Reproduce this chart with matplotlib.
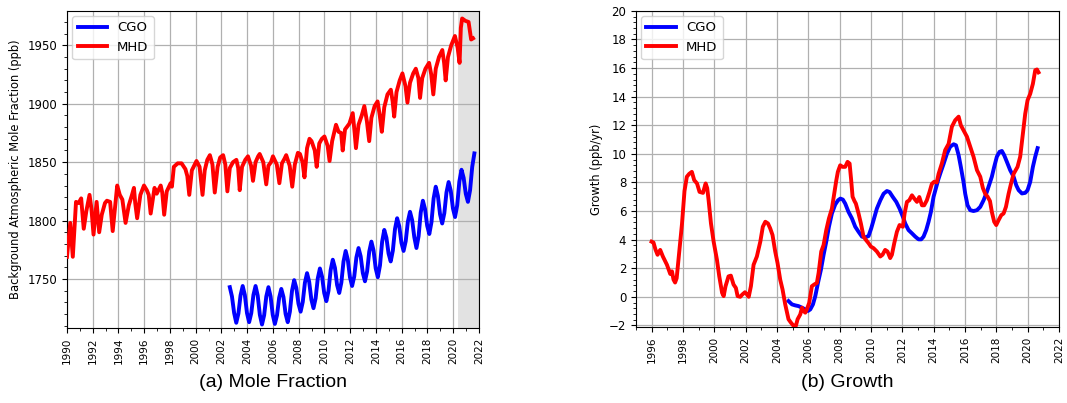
import numpy as np
import matplotlib
matplotlib.use("Agg")
import matplotlib.pyplot as plt
from matplotlib.ticker import MultipleLocator, AutoMinorLocator

# ---------------- data: (a) mole fraction ----------------
mhd_t = [1990.0, 1990.25, 1990.45, 1990.7, 1990.9,
         1991.1, 1991.3, 1991.5, 1991.75, 1991.9,
         1992.06, 1992.3, 1992.5, 1992.7, 1992.95,
         1993.1, 1993.35, 1993.55, 1993.9,
         1994.1, 1994.3, 1994.55, 1994.8,
         1995.05, 1995.2, 1995.3, 1995.45, 1995.7,
         1995.98, 1996.2, 1996.35, 1996.5, 1996.8,
         1996.97, 1997.28, 1997.4, 1997.55, 1997.75,
         1998.05, 1998.15, 1998.3, 1998.6, 1998.9, 1999.2, 1999.35, 1999.5, 1999.7,
         2000.06, 2000.3, 2000.53, 2000.7, 2000.9,
         2001.1, 2001.3, 2001.48, 2001.7, 2001.9,
         2002.13, 2002.3, 2002.46, 2002.65, 2002.9,
         2003.16, 2003.3, 2003.42, 2003.6, 2003.85,
         2004.06, 2004.3, 2004.45, 2004.65, 2004.85,
         2004.97, 2005.25, 2005.48, 2005.65, 2005.85,
         2006.0, 2006.3, 2006.5, 2006.7, 2006.9,
         2007.03, 2007.3, 2007.5, 2007.7, 2007.94,
         2008.1, 2008.3, 2008.45, 2008.65, 2008.84,
         2009.0, 2009.25, 2009.4, 2009.6, 2009.8,
         2010.0, 2010.25, 2010.4, 2010.6, 2010.9,
         2011.1, 2011.3, 2011.42, 2011.6, 2011.94,
         2012.2, 2012.35, 2012.45, 2012.65, 2012.9,
         2013.1, 2013.3, 2013.48, 2013.65, 2013.9,
         2014.13, 2014.3, 2014.46, 2014.65, 2014.9,
         2015.16, 2015.3, 2015.42, 2015.6, 2015.85,
         2016.06, 2016.3, 2016.45, 2016.65, 2016.9,
         2017.1, 2017.3, 2017.43, 2017.6, 2017.85,
         2018.13, 2018.3, 2018.46, 2018.65, 2018.9,
         2019.16, 2019.3, 2019.42, 2019.6, 2019.85,
         2020.14, 2020.35, 2020.5, 2020.6, 2020.7, 2020.95, 2021.2, 2021.4, 2021.55]
mhd_v = [1769, 1798, 1769, 1816, 1815,
         1819, 1793, 1808, 1822, 1810,
         1788, 1816, 1790, 1805, 1815,
         1817, 1816, 1791, 1830,
         1822, 1818, 1798, 1813,
         1822, 1828, 1815, 1802, 1822,
         1830, 1826, 1822, 1806, 1828,
         1823, 1830, 1824, 1805, 1825,
         1832, 1829, 1846, 1849, 1849, 1844, 1838, 1822, 1843,
         1851, 1846, 1822, 1843, 1852,
         1856, 1848, 1824, 1846, 1854,
         1856, 1848, 1825, 1845, 1850,
         1852, 1845, 1826, 1846, 1852,
         1855, 1847, 1834, 1850, 1855,
         1857, 1850, 1831, 1847, 1850,
         1855, 1848, 1832, 1849, 1853,
         1856, 1847, 1829, 1848, 1858,
         1857, 1850, 1837, 1862, 1870,
         1868, 1860, 1846, 1866, 1870,
         1872, 1864, 1851, 1868, 1882,
         1876, 1875, 1860, 1878, 1883,
         1892, 1875, 1862, 1882, 1890,
         1898, 1885, 1868, 1888, 1898,
         1902, 1890, 1876, 1897, 1908,
         1912, 1902, 1889, 1910, 1920,
         1926, 1915, 1901, 1918, 1926,
         1930, 1922, 1905, 1922, 1930,
         1935, 1925, 1908, 1930, 1940,
         1946, 1935, 1920, 1940, 1950,
         1958, 1948, 1935, 1965, 1973, 1971, 1970, 1955, 1956]

# CGO sampled every two months from 2002.65
cgo_t = 2002.65 + np.arange(115) / 6.0
cgo_v = [1743, 1735, 1721,
         1712.5, 1720.4, 1736, 1744, 1736.3, 1720.8,
         1713, 1720.8, 1736.3, 1744, 1735.8, 1719.3,
         1711, 1719, 1735, 1743, 1735.1, 1719.4,
         1711.5, 1719, 1734, 1741.5, 1734.6, 1720.1,
         1713, 1722, 1740, 1749, 1742.3, 1728.8,
         1722, 1730.3, 1746.8, 1755, 1747.5, 1732.5,
         1725, 1733.5, 1750.5, 1759, 1752, 1738,
         1731, 1739.9, 1757.6, 1766.5, 1759.6, 1744.9,
         1738, 1747, 1765, 1774, 1766.5, 1751.5,
         1744, 1752.1, 1768.4, 1776.5, 1769.4, 1755.1,
         1748, 1756.5, 1773.5, 1782, 1774.4, 1759.1,
         1751.5, 1761.6, 1781.9, 1792, 1785.3, 1771.8,
         1765, 1774.3, 1792.8, 1802, 1795, 1781,
         1774, 1782.4, 1799.1, 1807.5, 1800.3, 1785.8,
         1776.5, 1786.6, 1806.9, 1817, 1809.9, 1795.6,
         1788.5, 1798.6, 1818.9, 1829, 1821.1, 1805.4,
         1797.5, 1806.4, 1824.1, 1833, 1825.5, 1810.5,
         1803, 1813.1, 1833.4, 1843.5, 1836.6, 1822.9,
         1816, 1826, 1846, 1857.5]

# ---------------- data: (b) growth ----------------
mhd_g_t = [1996.0, 1996.12, 1996.25, 1996.38, 1996.55, 1996.72, 1996.98, 1997.19, 1997.3,
           1997.4, 1997.5, 1997.6, 1997.8, 1997.94, 1998.1, 1998.25, 1998.4, 1998.57,
           1998.72, 1998.9, 1999.06, 1999.28, 1999.45, 1999.55, 1999.64, 1999.79, 1999.96,
           2000.17, 2000.32, 2000.5, 2000.6, 2000.72, 2000.91, 2001.06, 2001.23, 2001.38,
           2001.49, 2001.66, 2001.79, 2001.96, 2002.09, 2002.2, 2002.34, 2002.51, 2002.72,
           2002.94, 2003.1, 2003.26, 2003.43, 2003.57, 2003.72, 2003.89, 2004.04, 2004.21,
           2004.36, 2004.53, 2004.74, 2004.89, 2005.06, 2005.21, 2005.32, 2005.49, 2005.6,
           2005.7, 2005.81, 2005.91, 2006.06, 2006.23, 2006.38, 2006.55, 2006.66, 2006.83,
           2006.98, 2007.15, 2007.32, 2007.51, 2007.66, 2007.79, 2007.89, 2008.04, 2008.19,
           2008.36, 2008.51, 2008.64, 2008.74, 2008.83, 2008.95, 2009.04, 2009.21, 2009.36,
           2009.53, 2009.68, 2009.85, 2010.0, 2010.17, 2010.38, 2010.6, 2010.74, 2010.91,
           2011.06, 2011.23, 2011.34, 2011.49, 2011.66, 2011.83, 2012.04, 2012.15, 2012.3,
           2012.45, 2012.62, 2012.77, 2012.94, 2013.09, 2013.26, 2013.4, 2013.57, 2013.74,
           2013.89, 2014.04, 2014.2, 2014.32, 2014.53, 2014.74, 2014.96, 2015.17, 2015.38,
           2015.6, 2015.74, 2015.91, 2016.13, 2016.34, 2016.55, 2016.77, 2016.98, 2017.15,
           2017.3, 2017.45, 2017.6, 2017.72, 2017.87, 2018.0, 2018.15, 2018.32, 2018.47,
           2018.62, 2018.79, 2018.94, 2019.11, 2019.36, 2019.53, 2019.7, 2019.85, 2020.0,
           2020.17, 2020.34, 2020.49, 2020.6, 2020.7]
mhd_g_v = [3.86, 3.8, 3.3, 2.94, 3.28, 2.82, 2.24, 1.6, 1.78,
           1.2, 1.0, 1.3, 3.5, 5.1, 7.4, 8.4, 8.6, 8.74,
           8.16, 7.93, 7.34, 7.27, 7.93, 7.6, 6.75, 5.13, 3.86,
           2.6, 1.43, 0.28, 0.05, 0.74, 1.43, 1.48, 0.86, 0.62,
           0.05, 0.0, 0.16, 0.32, 0.16, 0.0, 0.74, 2.24, 2.82,
           3.86, 4.9, 5.25, 5.13, 4.79, 4.32, 3.17, 2.36, 1.2,
           0.51, -0.53, -1.57, -1.8, -2.03, -2.03, -1.57, -1.23, -0.76,
           -0.99, -1.11, -0.88, -0.42, 0.74, 0.86, 0.97, 1.66, 3.17,
           3.63, 4.67, 5.48, 6.17, 7.21, 8.14, 8.74, 9.2, 9.09,
           9.09, 9.44, 9.32, 8.16, 7.0, 6.7, 6.52, 5.83, 5.13,
           4.21, 3.98, 3.75, 3.51, 3.4, 3.17, 2.82, 2.94, 3.28,
           3.17, 2.71, 2.94, 3.75, 4.55, 5.02, 4.9, 5.83, 6.64,
           6.75, 7.1, 6.87, 6.64, 6.98, 6.4, 6.4, 6.75, 7.33,
           7.9, 8.05, 8.0, 8.6, 9.33, 10.26, 10.7, 11.9, 12.35,
           12.6, 12.0, 11.65, 11.2, 10.5, 9.8, 8.86, 8.4, 7.6,
           7.2, 7.0, 6.7, 5.94, 5.25, 5.02, 5.36, 5.71, 5.83,
           6.29, 7.21, 7.9, 8.6, 9.09, 9.8, 11.4, 12.8, 13.75,
           14.2, 14.9, 15.85, 15.9, 15.7]

cgo_g_t = [2004.74, 2004.96, 2005.17, 2005.38, 2005.6, 2005.81, 2005.98, 2006.13, 2006.3,
           2006.45, 2006.62, 2006.81, 2006.98, 2007.15, 2007.32, 2007.51, 2007.72, 2007.9,
           2008.05, 2008.21, 2008.36, 2008.57, 2008.79, 2009.0, 2009.21, 2009.43, 2009.64,
           2009.85, 2010.02, 2010.17, 2010.38, 2010.6, 2010.81, 2011.02, 2011.19, 2011.4,
           2011.62, 2011.83, 2012.04, 2012.19, 2012.4, 2012.62, 2012.83, 2013.04, 2013.21,
           2013.36, 2013.53, 2013.68, 2013.83, 2014.0, 2014.15, 2014.3, 2014.45, 2014.64,
           2014.85, 2015.06, 2015.28, 2015.43, 2015.6, 2015.74, 2015.91, 2016.02, 2016.17,
           2016.34, 2016.55, 2016.77, 2016.98, 2017.19, 2017.4, 2017.57, 2017.72, 2017.87,
           2018.04, 2018.21, 2018.36, 2018.51, 2018.68, 2018.89, 2019.11, 2019.28, 2019.43,
           2019.64, 2019.85, 2020.0, 2020.17, 2020.34, 2020.49, 2020.64]
cgo_g_v = [-0.3, -0.53, -0.6, -0.65, -0.76, -0.88, -0.99, -0.88, -0.53,
           0.05, 0.97, 1.9, 2.94, 3.86, 4.9, 5.83, 6.45, 6.75,
           6.87, 6.8, 6.52, 5.94, 5.48, 4.9, 4.55, 4.21, 4.16,
           4.25, 4.79, 5.36, 6.17, 6.75, 7.21, 7.4, 7.33, 6.98,
           6.64, 6.17, 5.6, 5.13, 4.67, 4.44, 4.21, 4.02, 4.02,
           4.21, 4.67, 5.25, 5.94, 7.0, 7.6, 8.2, 8.7, 9.3,
           10.0, 10.5, 10.67, 10.6, 9.9, 9.09, 8.04, 7.21, 6.4,
           6.06, 6.0, 6.06, 6.29, 6.75, 7.33, 7.9, 8.4, 9.09,
           9.8, 10.14, 10.2, 9.9, 9.44, 8.86, 8.4, 7.8, 7.46,
           7.23, 7.27, 7.46, 8.04, 9.09, 9.8, 10.4]

x_ticks_a = list(range(1990, 2023, 2))
x_ticks_b = list(range(1996, 2023, 2))
shade_start = 2020.36

# ---------------- figure ----------------
plt.rcParams['font.family'] = ['DejaVu Sans']
fig = plt.figure(figsize=(10.67, 4.03), dpi=100)
ax1 = fig.add_axes([0.0628, 0.186, 0.386, 0.787])
ax2 = fig.add_axes([0.596, 0.189, 0.3964, 0.784])

blue = '#0000ff'
red = '#ff0000'
lw = 2.8

# (a)
ax1.axvspan(shade_start, 2022, color='#e2e2e2', zorder=0.5, lw=0)
ax1.plot(cgo_t, cgo_v, color=blue, lw=lw, label='CGO', zorder=3)
ax1.plot(mhd_t, mhd_v, color=red, lw=lw, label='MHD', zorder=3)
ax1.set_xlim(1990, 2022)
ax1.set_ylim(1708, 1979.5)
ax1.set_xticks(x_ticks_a)
ax1.set_xticklabels([str(t) for t in x_ticks_a], rotation=90, fontsize=7.5)
ax1.xaxis.set_minor_locator(MultipleLocator(1))
ax1.yaxis.set_major_locator(MultipleLocator(50))
ax1.yaxis.set_minor_locator(MultipleLocator(10))
ax1.tick_params(axis='y', labelsize=8.5)
ax1.set_ylabel('Background Atmospheric Mole Fraction (ppb)', fontsize=8.3)
ax1.grid(True, which='major', color='#b0b0b0', lw=0.9, zorder=1)
ax1.set_axisbelow(True)
ax1.legend(loc='upper left', fontsize=9.5, handlelength=2.2, borderaxespad=0.4)

# (b)
ax2.plot(cgo_g_t, cgo_g_v, color=blue, lw=lw, label='CGO', zorder=3)
ax2.plot(mhd_g_t, mhd_g_v, color=red, lw=lw, label='MHD', zorder=3)
ax2.set_xlim(1995, 2022)
ax2.set_ylim(-2.1, 20)
ax2.set_xticks(x_ticks_b)
ax2.set_xticklabels([str(t) for t in x_ticks_b], rotation=90, fontsize=7.5)
ax2.xaxis.set_minor_locator(MultipleLocator(1))
ax2.yaxis.set_major_locator(MultipleLocator(2))
ax2.yaxis.set_minor_locator(AutoMinorLocator(5))
ax2.tick_params(axis='y', labelsize=8.5)
ax2.set_ylabel('Growth (ppb/yr)', fontsize=8.3)
ax2.grid(True, which='major', color='#b0b0b0', lw=0.9, zorder=1)
ax2.set_axisbelow(True)
ax2.legend(loc='upper left', fontsize=9.5, handlelength=2.2, borderaxespad=0.4)

for ax in (ax1, ax2):
    ax.tick_params(which='minor', length=2.5)

fig.text(0.0628 + 0.386 / 2, 0.05, '(a) Mole Fraction', ha='center', va='center',
         fontsize=14, family='Liberation Sans')
fig.text(0.596 + 0.3964 / 2, 0.05, '(b) Growth', ha='center', va='center',
         fontsize=14, family='Liberation Sans')

fig.savefig('out.png', dpi=100)
